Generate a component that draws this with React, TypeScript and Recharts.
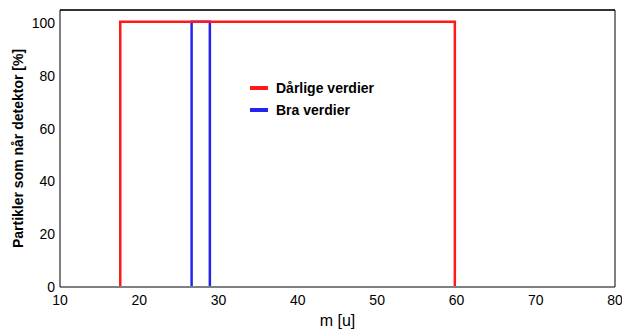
import { LineChart, Line, XAxis, YAxis } from "recharts"

// values
const xTicks = [10, 20, 30, 40, 50, 60, 70, 80]
const yTicks = [0, 20, 40, 60, 80, 100]
const darligM = [17.6, 17.6, 59.8, 59.8]
const darligPct = [0, 100.5, 100.5, 0]
const braM = [26.6, 26.6, 28.9, 28.9]
const braPct = [0, 100.5, 100.5, 0]

const darlig = darligM.map((m, i) => ({ m, pct: darligPct[i] }))
const bra = braM.map((m, i) => ({ m, pct: braPct[i] }))

const FONT = "'Liberation Sans', Arial, sans-serif"
const RED = "#ff1a1a"
const BLUE = "#2424f0"

const noLabel = () => <g />

const LegendBox = () => (
    <div style={{ position: "absolute", left: 250, top: 77, fontFamily: FONT, fontWeight: "bold", fontSize: 14, color: "#000" }}>
        <div style={{ display: "flex", alignItems: "center", height: 22 }}>
            <div style={{ width: 18, height: 4, background: RED, marginRight: 8 }} />
            <span>Dårlige verdier</span>
        </div>
        <div style={{ display: "flex", alignItems: "center", height: 22 }}>
            <div style={{ width: 18, height: 4, background: BLUE, marginRight: 8 }} />
            <span>Bra verdier</span>
        </div>
    </div>
)

export default function App() {
    return (
        <div style={{ position: "relative", width: 622, height: 329, background: "#fff" }}>
            <style>{`body { margin: 0; }`}</style>
            <LineChart width={622} height={329} margin={{ top: 10, right: 7, left: 0, bottom: 0 }}>
                <XAxis
                    xAxisId="bottom"
                    dataKey="m"
                    type="number"
                    domain={[10, 80]}
                    ticks={xTicks}
                    allowDataOverflow
                    height={42}
                    tickLine={false}
                    tickSize={0}
                    tickMargin={8}
                    axisLine={{ stroke: "#808080", strokeWidth: 2 }}
                    tick={{ fill: "#000", fontSize: 14, fontFamily: FONT }}
                    label={{ value: "m [u]", position: "insideBottom", offset: 3, fill: "#000", fontSize: 16, fontFamily: FONT }}
                />
                <XAxis
                    xAxisId="top"
                    orientation="top"
                    type="number"
                    domain={[10, 80]}
                    ticks={xTicks}
                    mirror
                    height={1}
                    tickSize={5}
                    tickLine={{ stroke: "#333" }}
                    axisLine={{ stroke: "#333", strokeWidth: 2 }}
                    tick={noLabel}
                />
                <YAxis
                    yAxisId="left"
                    type="number"
                    domain={[0, 105]}
                    ticks={yTicks}
                    width={60}
                    tickLine={false}
                    tickSize={0}
                    tickMargin={5}
                    axisLine={{ stroke: "#000" }}
                    tick={{ fill: "#000", fontSize: 14, fontFamily: FONT }}
                    label={{
                        value: "Partikler som når detektor [%]",
                        angle: -90,
                        position: "insideLeft",
                        offset: 18,
                        style: { textAnchor: "middle", fontWeight: "bold", fontSize: 14, fontFamily: FONT, fill: "#000" },
                    }}
                />
                <YAxis
                    yAxisId="right"
                    orientation="right"
                    type="number"
                    domain={[0, 105]}
                    ticks={yTicks}
                    mirror
                    width={1}
                    tickSize={4}
                    tickLine={{ stroke: "#000" }}
                    axisLine={{ stroke: "#000" }}
                    tick={noLabel}
                />
                <Line
                    data={bra}
                    xAxisId="bottom"
                    yAxisId="left"
                    dataKey="pct"
                    type="linear"
                    stroke={BLUE}
                    strokeWidth={2.5}
                    dot={false}
                    isAnimationActive={false}
                />
                <Line
                    data={darlig}
                    xAxisId="bottom"
                    yAxisId="left"
                    dataKey="pct"
                    type="linear"
                    stroke={RED}
                    strokeWidth={2.5}
                    dot={false}
                    isAnimationActive={false}
                />
            </LineChart>
            <LegendBox />
        </div>
    )
}
